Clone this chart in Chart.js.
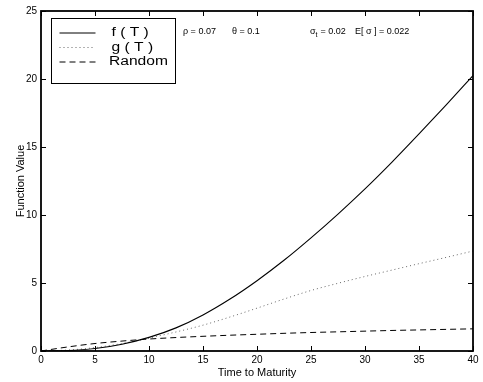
<!DOCTYPE html>
<html>
<head>
<meta charset="utf-8">
<script src="https://cdn.jsdelivr.net/npm/chart.js@4.4.1/dist/chart.umd.min.js"></script>
<style>
  html, body { margin: 0; padding: 0; background: #fff; }
  canvas { display: block; }
</style>
</head>
<body>
<canvas id="myChart" width="483" height="382"></canvas>
<script>
// values
var maturity = [0, 2.5, 5, 7.5, 10, 12.5, 15, 17.5, 20, 22.5, 25, 27.5, 30, 32.5, 35, 37.5, 40];
var fValues = [0, 0.03, 0.18, 0.50, 1.00, 1.70, 2.65, 3.82, 5.17, 6.67, 8.32, 10.07, 11.92, 13.89, 15.96, 18.08, 20.25];
var gValues = [0, 0.07, 0.25, 0.55, 0.95, 1.40, 1.90, 2.50, 3.15, 3.82, 4.45, 4.98, 5.48, 5.95, 6.42, 6.88, 7.35];
var randomValues = [0, 0.30, 0.55, 0.73, 0.88, 0.99, 1.08, 1.16, 1.23, 1.30, 1.36, 1.41, 1.46, 1.51, 1.55, 1.59, 1.63];
var xTicks = [0, 5, 10, 15, 20, 25, 30, 35, 40];
var yTicks = [0, 5, 10, 15, 20, 25];
var seriesLabels = ["f ( T )", "g ( T )", "Random"];

var FONT = "'Liberation Sans', Arial, Helvetica, sans-serif";

function points(values) {
  return maturity.map(function (t, i) { return { x: t, y: values[i] }; });
}

// box, inward ticks, legend and the parameter line (matlab look)
var framePlugin = {
  id: 'frame',
  afterDraw: function (chart) {
    var ctx = chart.ctx;
    var a = chart.chartArea;
    var xs = chart.scales.x, ys = chart.scales.y;
    ctx.save();
    ctx.strokeStyle = '#000';
    ctx.lineWidth = 1.8;
    ctx.strokeRect(a.left, a.top, a.right - a.left, a.bottom - a.top);

    ctx.lineWidth = 1;
    ctx.beginPath();
    xTicks.forEach(function (v) {
      var px = Math.round(xs.getPixelForValue(v)) + 0.5;
      ctx.moveTo(px, a.bottom); ctx.lineTo(px, a.bottom - 5);
      ctx.moveTo(px, a.top); ctx.lineTo(px, a.top + 5);
    });
    yTicks.forEach(function (v) {
      var py = Math.round(ys.getPixelForValue(v)) + 0.5;
      ctx.moveTo(a.left, py); ctx.lineTo(a.left + 5, py);
      ctx.moveTo(a.right, py); ctx.lineTo(a.right - 5, py);
    });
    ctx.stroke();

    // legend
    var lx = a.left + 10.5, ly = a.top + 7.5;
    ctx.fillStyle = '#fff';
    ctx.fillRect(lx, ly, 124, 65);
    ctx.lineWidth = 1;
    ctx.strokeRect(lx, ly, 124, 65);
    chart.data.datasets.forEach(function (ds, i) {
      var yy = ly + 14.5 + i * 14.5;
      ctx.strokeStyle = ds.borderColor;
      ctx.setLineDash(ds.borderDash || []);
      ctx.beginPath();
      ctx.moveTo(lx + 8, yy); ctx.lineTo(lx + 44, yy);
      ctx.stroke();
      ctx.setLineDash([]);
      ctx.save();
      ctx.fillStyle = '#000';
      ctx.font = '12px ' + FONT;
      ctx.textBaseline = 'middle';
      ctx.translate(lx + (i === 2 ? 57.5 : 60), yy);
      ctx.scale(1.3, 1);
      ctx.fillText(ds.label, 0, 0);
      ctx.restore();
    });

    // parameters
    ctx.fillStyle = '#000';
    ctx.textBaseline = 'alphabetic';
    ctx.font = '9px ' + FONT;
    var by = a.top + 23;
    ctx.fillText('\u03C1 = 0.07', 183, by);
    ctx.fillText('\u03B8 = 0.1', 232, by);
    ctx.fillText('\u03C3', 310, by);
    ctx.font = '7px ' + FONT;
    ctx.fillText('t', 315.5, by + 3);
    ctx.font = '9px ' + FONT;
    ctx.fillText(' = 0.02', 318, by);
    ctx.fillText('E[ \u03C3 ] = 0.022', 355, by);
    ctx.restore();
  }
};

var canvas = document.getElementById('myChart');
var ctx = canvas.getContext('2d');
var chart = new Chart(ctx, {
  type: 'line',
  data: {
    datasets: [{
      label: seriesLabels[0],
      data: points(fValues),
      borderColor: '#000',
      borderWidth: 1.1
    }, {
      label: seriesLabels[1],
      data: points(gValues),
      borderColor: '#666',
      borderWidth: 1,
      borderDash: [1, 3]
    }, {
      label: seriesLabels[2],
      data: points(randomValues),
      borderColor: '#000',
      borderWidth: 1,
      borderDash: [6, 4]
    }]
  },
  options: {
    responsive: false,
    animation: false,
    layout: { padding: { top: 11, right: 10, left: 0, bottom: 0 } },
    elements: {
      point: { radius: 0 },
      line: { cubicInterpolationMode: 'monotone', fill: false }
    },
    plugins: {
      legend: { display: false },
      tooltip: { enabled: false }
    },
    scales: {
      x: {
        type: 'linear',
        min: 0, max: 40,
        afterFit: function (s) { s.height = 31; },
        afterBuildTicks: function (s) { s.ticks = xTicks.map(function (v) { return { value: v }; }); },
        grid: { display: false, drawTicks: false },
        border: { display: false },
        ticks: { color: '#000', padding: 3, font: { family: FONT, size: 10 }, maxRotation: 0 },
        title: { display: true, text: 'Time to Maturity', color: '#000', font: { family: FONT, size: 11 }, padding: { top: 0, bottom: 2 } }
      },
      y: {
        min: 0, max: 25,
        afterFit: function (s) { s.width = 41; },
        afterBuildTicks: function (s) { s.ticks = yTicks.map(function (v) { return { value: v }; }); },
        grid: { display: false, drawTicks: false },
        border: { display: false },
        ticks: { color: '#000', padding: 4, font: { family: FONT, size: 10 } },
        title: { display: true, text: 'Function Value', color: '#000', font: { family: FONT, size: 11 }, padding: { top: 14, bottom: 0 } }
      }
    }
  },
  plugins: [framePlugin]
});
</script>
</body>
</html>
